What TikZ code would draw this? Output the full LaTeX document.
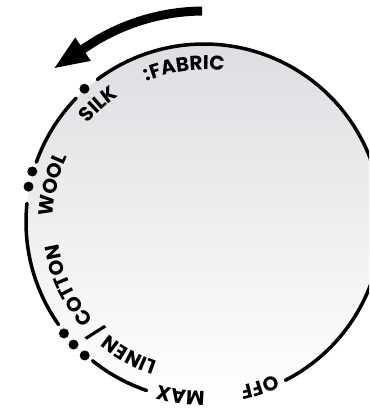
\documentclass[tikz,border=0pt]{standalone}
\usepackage{fontspec}
\newfontfamily\dialfont{Poppins}[LetterSpace=8]
\usetikzlibrary{decorations.text,arrows.meta}
\definecolor{dialtop}{RGB}{221,222,225}
\definecolor{dialmid}{RGB}{247,247,248}

\tikzset{
  rim/.style={line width=3.5pt, line cap=round},
  knob/.style={circle, fill=black, inner sep=0pt, minimum size=10pt},
}
\newcommand{\diallabel}[3]{%
  \path[decorate, decoration={text along path, text align=center,
    text={|\dialfont\bfseries\fontsize{20}{24}\selectfont|#3}}]
    (#1+60:#2) arc[start angle=#1+60, end angle=#1-60, radius=#2];}

\begin{document}
\begin{tikzpicture}[x=1pt, y=1pt, line join=round]
    \useasboundingbox (-204,-192) rectangle (165,222);
    \clip (-204,-192) rectangle (165,222);
    \coordinate (O) at (0,0);
    \shade[top color=dialtop, middle color=dialmid, bottom color=white] (O) circle (178);
    \draw[rim] (-62.8:178) arc[start angle=-62.8, end angle=126.8, radius=178];
    \draw[rim] (135.9:178) arc[start angle=135.9, end angle=160.4, radius=178];
    \draw[rim] (174:178) arc[start angle=174, end angle=215.2, radius=178];
    \draw[rim] (231.2:178) arc[start angle=231.2, end angle=251.2, radius=178];
    \node[knob] (silk) at (131.9:179) {};
    \node[knob] (wool1) at (163.6:179) {};
    \node[knob] (wool2) at (168.6:179) {};
    \node[knob] (linen1) at (218.5:179) {};
    \node[knob] (linen2) at (223.2:179) {};
    \node[knob] (linen3) at (228.2:179) {};
    \coordinate (tip) at (-151,153);
    \draw[line width=9pt, -{Triangle[length=36pt,width=25pt]}]
      (90.5:211) arc[start angle=90.5, end angle=122, radius=211] -- (tip);
    \diallabel{97.3}{152}{:FABRIC}
    \diallabel{131.9}{152}{SILK}
    \diallabel{166.3}{151}{WOOL}
    \diallabel{220}{147}{LINEN / COTTON}
    \diallabel{262.3}{169}{MAX}
    \diallabel{288.6}{168}{OFF}
\end{tikzpicture}
\end{document}
